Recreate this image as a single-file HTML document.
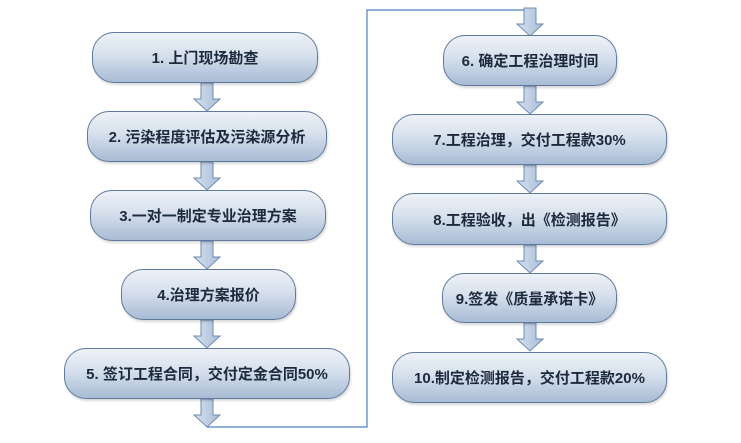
<!DOCTYPE html>
<html><head><meta charset="utf-8"><style>
body{margin:0;width:741px;height:443px;background:#fff;position:relative;overflow:hidden;font-family:"Liberation Sans","Noto Sans CJK SC",sans-serif}
.b{position:absolute;box-sizing:border-box;border:1.5px solid #5f7a9c;border-radius:22px;background:linear-gradient(#eef2f8 0%,#d6e0ec 45%,#a8bcd5 100%);display:flex;align-items:center;justify-content:center;font-weight:bold;font-size:15px;color:#1c2a3c;box-shadow:1px 2px 2px rgba(0,0,0,.15)}
svg{position:absolute;left:0;top:0}
</style></head><body>
<svg width="741" height="443">
<defs><linearGradient id="g" x1="0" x2="1"><stop offset="0" stop-color="#d6e1ef"/><stop offset="1" stop-color="#a9bdd7"/></linearGradient>
<path id="a" d="M-6,0 L6,0 L6,16 L13,16 L0,28 L-13,16 L-6,16 Z"/>
</defs>
<polyline points="207,427 367,427 367,10 527,10" fill="none" stroke="#4f7fc0" stroke-width="1.2"/>
<g fill="url(#g)" stroke="#6d8bb2" stroke-width="1">
<use href="#a" x="207" y="83"/>
<use href="#a" x="207" y="162"/>
<use href="#a" x="207" y="241"/>
<use href="#a" x="207" y="320"/>
<use href="#a" x="207" y="399"/>
<use href="#a" x="530" y="8"/>
<use href="#a" x="530" y="86"/>
<use href="#a" x="530" y="165"/>
<use href="#a" x="530" y="245"/>
<use href="#a" x="530" y="323"/>
</g>
</svg>
<div class="b" style="left:92px;top:32px;width:226px;height:51px">1. 上门现场勘查</div>
<div class="b" style="left:87px;top:111px;width:240px;height:51px">2. 污染程度评估及污染源分析</div>
<div class="b" style="left:90px;top:190px;width:236px;height:51px">3.一对一制定专业治理方案</div>
<div class="b" style="left:121px;top:269px;width:175px;height:51px">4.治理方案报价</div>
<div class="b" style="left:64px;top:348px;width:286px;height:51px">5. 签订工程合同，交付定金合同50%</div>
<div class="b" style="left:443px;top:35px;width:174px;height:51px">6. 确定工程治理时间</div>
<div class="b" style="left:392px;top:114px;width:275px;height:51px">7.工程治理，交付工程款30%</div>
<div class="b" style="left:392px;top:193px;width:275px;height:52px">8.工程验收，出《检测报告》</div>
<div class="b" style="left:442px;top:273px;width:175px;height:50px">9.签发《质量承诺卡》</div>
<div class="b" style="left:392px;top:352px;width:275px;height:51px">10.制定检测报告，交付工程款20%</div>
</body></html>
